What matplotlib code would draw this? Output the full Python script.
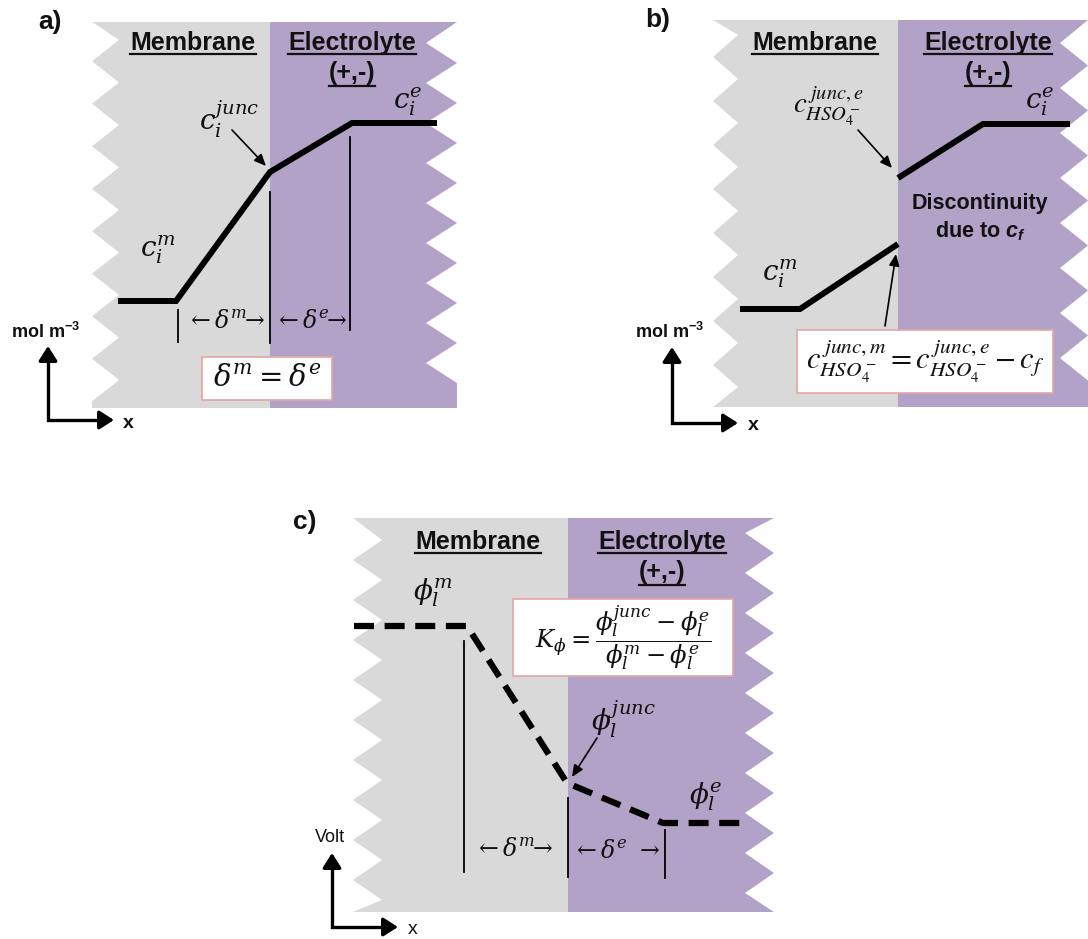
import matplotlib
matplotlib.use("Agg")
import matplotlib.pyplot as plt
from matplotlib.patches import Polygon, Rectangle

plt.rcParams["font.family"] = ["Liberation Sans", "DejaVu Sans"]
plt.rcParams["mathtext.fontset"] = "custom"
plt.rcParams["mathtext.rm"] = "Liberation Sans:bold"
plt.rcParams["mathtext.it"] = "Liberation Sans:italic:bold"
plt.rcParams["mathtext.bf"] = "Liberation Sans:bold"

# ---- profile data (diagram units: x to the right, y downward) ----
# a) continuous concentration profile across membrane | electrolyte
a_x = [118, 176, 270, 352, 437]
a_y = [301, 301, 172, 123, 123]
# b) concentration with a jump at the interface
b_mem_x = [740, 800, 898]
b_mem_y = [309, 309, 244]
b_ele_x = [898, 983, 1070]
b_ele_y = [178, 124, 124]
# c) electrolyte potential profile
c_x = [354, 467, 567, 663, 748]
c_y = [626, 626, 783, 823, 823]

panel_tags = ["a)", "b)", "c)"]
region_names = ["Membrane", "Electrolyte", "(+,-)"]

GRAY = "#d9d9d9"
PURPLE = "#b3a2c7"
BOXEDGE = "#e3a6a6"
INK = "#111111"

fig = plt.figure(figsize=(10.88, 9.39), dpi=100)
ax = fig.add_axes([0, 0, 1, 1])
ax.set_xlim(0, 1088)
ax.set_ylim(939, 0)
ax.axis("off")


def zig_edge(x_out, depth, y0, y1, first_tip, period):
    pts = [(x_out, y0)]
    t = first_tip
    while t < y1 - period * 0.25:
        pts.append((x_out + depth, t))
        mid = t + period / 2
        if mid < y1:
            pts.append((x_out, mid))
        t += period
    pts.append((x_out, y1))
    return pts


def slab(x0, xm, x1, y0, y1, dl, dr, tip_l, tip_r, per_l, per_r):
    left = zig_edge(x0, dl, y0, y1, tip_l, per_l)
    gray = left + [(xm, y1), (xm, y0)]
    right = zig_edge(x1, -dr, y0, y1, tip_r, per_r)
    purple = [(xm, y0), (xm, y1)] + right[::-1]
    ax.add_patch(Polygon(gray, closed=True, fc=GRAY, ec="none", zorder=0))
    ax.add_patch(Polygon(purple, closed=True, fc=PURPLE, ec="none", zorder=0))


slab(92, 270, 457, 22, 408, 27, 31, 40, 43, 42.5, 40)
slab(713, 898, 1088, 20, 407, 25, 28, 35, 43, 44, 45)
slab(353, 568, 774, 518, 912, 29, 29, 540, 533, 40, 40)

underlined = []


def header(x, y, s, size=18, off=3.5):
    t = ax.text(x, y, s, ha="center", va="baseline", fontsize=size,
                fontweight="bold", color=INK, zorder=5)
    underlined.append((t, y + off))


for (mx, ex, by) in [(193, 352, 50), (815, 988, 50), (478, 662, 549)]:
    header(mx, by, region_names[0])
    header(ex, by, region_names[1])
    header(ex, by + 30, region_names[2], off=5.5)

for (x, y, s) in [(50, 22, panel_tags[0]), (658, 20, panel_tags[1]), (305, 522, panel_tags[2])]:
    ax.text(x, y, s, ha="center", va="center", fontsize=19, fontweight="bold", color=INK)

# profiles
ax.plot(a_x, a_y, color="black", lw=4.3, solid_capstyle="butt", solid_joinstyle="miter", zorder=3)
ax.plot(b_mem_x, b_mem_y, color="black", lw=4.3, solid_capstyle="butt", solid_joinstyle="miter", zorder=3)
ax.plot(b_ele_x, b_ele_y, color="black", lw=4.3, solid_capstyle="butt", solid_joinstyle="miter", zorder=3)
ax.plot(c_x, c_y, color="black", lw=4.5, dashes=(3.2, 1.7), dash_capstyle="butt", zorder=3)

# boundary markers of the diffusion layers
for (x, ya, yb) in [(178, 310, 342), (270, 192, 343), (350, 137, 330),
                    (464, 641, 872), (568, 798, 877), (665, 830, 878)]:
    ax.plot([x, x], [ya, yb], color="black", lw=1.3, zorder=3)


def mlabel(x, y, s, size, fam="dejavuserif"):
    ax.text(x, y, s, ha="center", va="center", fontsize=size, color=INK,
            math_fontfamily=fam, zorder=5)


# layer thickness labels
mlabel(226, 322, r"$\leftarrow\delta^m\!\!\rightarrow$", 17)
mlabel(311, 322, r"$\leftarrow\delta^e\!\!\rightarrow$", 17)
mlabel(514, 850, r"$\leftarrow\delta^m\!\!\rightarrow$", 17)
mlabel(616, 852, r"$\leftarrow\delta^e\ \rightarrow$", 17)

# concentration / potential labels
mlabel(158, 250, r"$c_i^m$", 20)
mlabel(229, 119, r"$c_i^{junc}$", 20)
mlabel(408, 102, r"$c_i^e$", 20)
mlabel(780, 274, r"$c_i^m$", 20)
mlabel(1040, 102, r"$c_i^e$", 20)
mlabel(828, 106, r"$c_{HSO_4^-}^{\,junc,e}$", 21, fam="stix")
mlabel(433, 593, r"$\phi_l^m$", 20)
mlabel(623, 719, r"$\phi_l^{junc}$", 20)
mlabel(706, 797, r"$\phi_l^e$", 20)


def pointer(xy_from, xy_to):
    ax.annotate("", xy=xy_to, xytext=xy_from,
                arrowprops=dict(arrowstyle="-|>,head_length=0.5,head_width=0.22",
                                lw=1.2, color="black", shrinkA=0, shrinkB=0,
                                mutation_scale=14), zorder=4)


pointer((232, 130), (266, 166))
pointer((858, 130), (892, 168))
pointer((885, 326), (896, 254))
pointer((597, 738), (572, 777))

ax.text(980, 204, "Discontinuity", ha="center", va="center", fontsize=15.5,
        fontweight="bold", color=INK, zorder=5)
ax.text(980, 231, r"due to $c_f$", ha="center", va="center", fontsize=15.5,
        fontweight="bold", color=INK, math_fontfamily="custom", zorder=5)

# formula boxes
for (x0, y0, x1, y1) in [(202, 357, 332, 400), (797, 330, 1053, 393), (513, 599, 733, 676)]:
    ax.add_patch(Rectangle((x0, y0), x1 - x0, y1 - y0, fc="white", ec=BOXEDGE,
                           lw=1.2, zorder=4))

mlabel(267, 378, r"$\delta^m = \delta^e$", 21)
mlabel(925, 361, r"$c_{HSO_4^-}^{\,junc,m} = c_{HSO_4^-}^{\,junc,e} - c_f$", 22, fam="stix")
mlabel(623, 638, r"$K_\phi = \dfrac{\phi_l^{junc} - \phi_l^e}{\phi_l^m - \phi_l^e}$", 17.5)


# coordinate arrows
def corner_axes(cx, cy, top, right, ylab, ylab_xy, bold, xlab_xy):
    ax.plot([cx, cx, right - 8], [top + 8, cy, cy], color="black", lw=2.4,
            solid_joinstyle="miter", solid_capstyle="butt", zorder=3)
    for tip, tail in [((cx, top), (cx, top + 10)), ((right, cy), (right - 10, cy))]:
        ax.annotate("", xy=tip, xytext=tail,
                    arrowprops=dict(arrowstyle="-|>,head_length=0.55,head_width=0.35",
                                    lw=2.4, color="black", shrinkA=0, shrinkB=0,
                                    mutation_scale=16), zorder=3)
    ax.text(ylab_xy[0], ylab_xy[1], ylab, ha="center", va="center", fontsize=13,
            fontweight="bold" if bold else "normal", color=INK, math_fontfamily="custom")
    ax.text(xlab_xy[0], xlab_xy[1], "x", ha="center", va="center", fontsize=14,
            fontweight="bold" if bold else "normal", color=INK)


corner_axes(48, 420, 346, 114, r"mol m$^{-3}$", (46, 332), True, (128, 423))
corner_axes(672, 423, 347, 738, r"mol m$^{-3}$", (670, 332), True, (753, 425))
corner_axes(332, 927, 853, 398, r"Volt", (330, 838), False, (413, 929))

# underline the region headings
fig.canvas.draw()
renderer = fig.canvas.get_renderer()
inv = ax.transData.inverted()
for t, yl in underlined:
    bb = t.get_window_extent(renderer)
    (xa, _), (xb, _) = inv.transform([(bb.x0, bb.y0), (bb.x1, bb.y0)])
    ax.plot([xa, xb], [yl, yl], color=INK, lw=1.6, zorder=5)

fig.savefig("out.png", dpi=100)
